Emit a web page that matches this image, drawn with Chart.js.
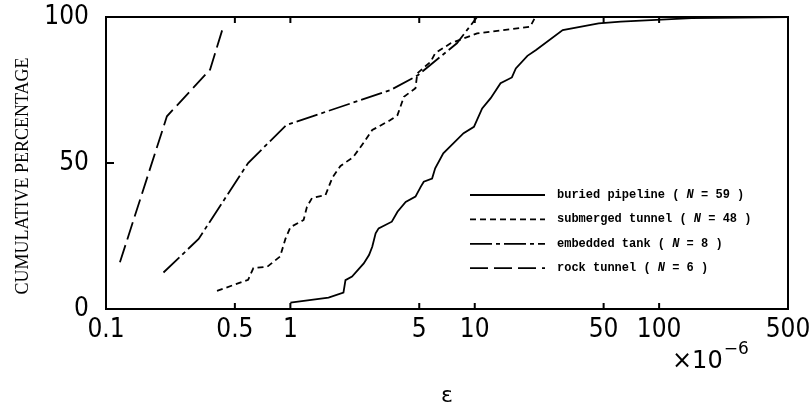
<!DOCTYPE html>
<html>
<head>
<meta charset="utf-8">
<script src="https://cdn.jsdelivr.net/npm/chart.js@4.4.0/dist/chart.umd.min.js"></script>
<style>
  html, body { margin: 0; padding: 0; background: #fff; }
</style>
</head>
<body>
<canvas id="strainChart" width="809" height="407"></canvas>
<script>
// tick labels
const xTicks = [0.1, 0.5, 1, 5, 10, 50, 100, 500]
const yTicks = [0, 50, 100]

// series names + sample counts (legend)
const seriesNames = ['buried pipeline', 'submerged tunnel', 'embedded tank', 'rock tunnel']
const seriesCounts = [59, 48, 8, 6]

// strain (x10^-6) vs cumulative percentage
const buriedX = [1.0, 1.61, 1.94, 1.99, 2.16, 2.5, 2.67, 2.78, 2.9, 3.01, 3.55, 3.81, 4.22, 4.77, 5.1, 5.29, 5.87, 6.1, 6.75, 8.7, 9.9, 10.97, 12.2, 13.8, 15.9, 16.7, 19.3, 21.5, 30, 47, 62, 150, 500]
const buriedY = [2.2, 3.9, 5.6, 9.9, 11.1, 15.6, 18.5, 21.3, 25.9, 27.6, 29.9, 33.3, 36.7, 38.5, 41.9, 43.6, 44.7, 48.2, 53.3, 60.2, 62.4, 68.7, 72.2, 77.3, 79.3, 82.4, 86.7, 88.7, 95.5, 97.8, 98.4, 99.6, 100]

const submergedX = [0.40, 0.59, 0.63, 0.75, 0.88, 0.94, 1.0, 1.18, 1.23, 1.31, 1.55, 1.69, 1.87, 2.19, 2.5, 2.78, 3.49, 3.81, 4.13, 4.77, 4.88, 5.77, 6.1, 7.4, 10.3, 20, 21.3]
const submergedY = [6.2, 10, 14, 14.5, 18, 24, 28, 30.5, 35, 38, 39, 45, 49, 52, 57, 61.3, 64.7, 66.4, 72.7, 75.6, 80.7, 84.7, 87.6, 91, 94.4, 96.7, 100]

const embeddedX = [0.205, 0.318, 0.59, 0.95, 3.5, 4.9, 8.0, 10.3]
const embeddedY = [12.5, 24, 50, 63, 75, 80, 91, 100]

const rockX = [0.119, 0.214, 0.367, 0.434]
const rockY = [16, 66, 82, 97]

function pairs(xs, ys) {
    return xs.map(function (x, i) { return {x: x, y: ys[i]} })
}

const dashes = [[], [6, 4], [22, 4, 4, 4], [18, 6]]
const series = [[buriedX, buriedY], [submergedX, submergedY], [embeddedX, embeddedY], [rockX, rockY]]

const datasets = series.map(function (s, i) {
    return {
        label: seriesNames[i],
        data: pairs(s[0], s[1]),
        borderColor: '#000',
        borderWidth: 1.8,
        borderDash: dashes[i],
        pointRadius: 0,
        tension: 0,
        fill: false
    }
})

const tickFont = {family: "'DejaVu Sans Condensed', 'DejaVu Sans', sans-serif", size: 26, lineHeight: 1}

//- frame, inward ticks, legend, extra texts -
const decorPlugin = {
    id: 'decor',
    afterDraw: function (chart) {
        const ctx = chart.ctx
        const a = chart.chartArea
        const sx = chart.scales.x
        const sy = chart.scales.y
        ctx.save()
        ctx.strokeStyle = '#000'
        ctx.fillStyle = '#000'
        ctx.lineWidth = 2
        ctx.setLineDash([])
        ctx.strokeRect(a.left, a.top, a.right - a.left, a.bottom - a.top)

        ctx.beginPath()
        xTicks.slice(1, -1).forEach(function (v) {
            const px = sx.getPixelForValue(v)
            ctx.moveTo(px, a.bottom); ctx.lineTo(px, a.bottom - 6)
            ctx.moveTo(px, a.top); ctx.lineTo(px, a.top + 6)
        })
        const py = sy.getPixelForValue(50)
        ctx.moveTo(a.left, py); ctx.lineTo(a.left + 8, py)
        ctx.stroke()

        // legend
        const lx = a.left + 364
        chart.data.datasets.forEach(function (ds, i) {
            const ly = 195 + i * 24.4
            ctx.lineWidth = 1.8
            ctx.setLineDash(ds.borderDash)
            ctx.beginPath()
            ctx.moveTo(lx, ly); ctx.lineTo(lx + 75, ly)
            ctx.stroke()
            ctx.setLineDash([])
            ctx.textBaseline = 'middle'
            ctx.textAlign = 'left'
            let tx = lx + 87
            const pieces = [[ds.label + ' ( ', 'bold'], ['N', 'italic bold'], [' = ' + seriesCounts[i] + ' )', 'bold']]
            pieces.forEach(function (p) {
                ctx.font = p[1] + " 12px 'Liberation Mono', monospace"
                ctx.fillText(p[0], tx, ly)
                tx += ctx.measureText(p[0]).width
            })
        })

        // y title
        ctx.save()
        ctx.translate(23, 176)
        ctx.rotate(-Math.PI / 2)
        ctx.font = "18px 'Liberation Serif', serif"
        ctx.textAlign = 'center'
        ctx.textBaseline = 'middle'
        ctx.fillText('CUMULATIVE PERCENTAGE', 0, 0)
        ctx.restore()

        // x10^-6 unit
        ctx.textAlign = 'left'
        ctx.textBaseline = 'middle'
        ctx.font = "24px 'DejaVu Sans', sans-serif"
        ctx.fillText('\u00d710', 672, 362)
        const w = ctx.measureText('\u00d710').width
        ctx.font = "17px 'DejaVu Sans', sans-serif"
        ctx.fillText('\u22126', 672 + w + 1, 350)
        ctx.restore()
    }
}

var chart = new Chart(document.getElementById('strainChart').getContext('2d'), {
    type: 'line',
    data: {datasets: datasets},
    options: {
        responsive: false,
        animation: false,
        devicePixelRatio: 1,
        layout: {padding: {left: 0, top: 17, right: 21, bottom: 0}},
        plugins: {legend: {display: false}, tooltip: {enabled: false}},
        scales: {
            x: {
                type: 'logarithmic',
                min: 0.1,
                max: 500,
                grid: {display: false, drawTicks: false},
                border: {display: false},
                afterBuildTicks: function (s) { s.ticks = xTicks.map(function (v) { return {value: v} }) },
                afterFit: function (s) { s.height = 98; s.paddingLeft = 0; s.paddingRight = 0 },
                ticks: {
                    autoSkip: false,
                    maxRotation: 0,
                    padding: 8,
                    color: '#000',
                    font: tickFont,
                    callback: function (v) { return String(v) }
                },
                title: {
                    display: true,
                    text: '\u03b5',
                    color: '#000',
                    padding: 0,
                    font: {family: "'DejaVu Sans', sans-serif", size: 22, lineHeight: 1}
                }
            },
            y: {
                type: 'linear',
                min: 0,
                max: 100,
                grid: {display: false, drawTicks: false},
                border: {display: false},
                afterBuildTicks: function (s) { s.ticks = yTicks.map(function (v) { return {value: v} }) },
                afterFit: function (s) { s.width = 106; s.paddingTop = 0; s.paddingBottom = 0 },
                ticks: {
                    padding: 17,
                    color: '#000',
                    font: tickFont,
                    callback: function (v) { return String(v) }
                }
            }
        }
    },
    plugins: [decorPlugin]
})
</script>
</body>
</html>
